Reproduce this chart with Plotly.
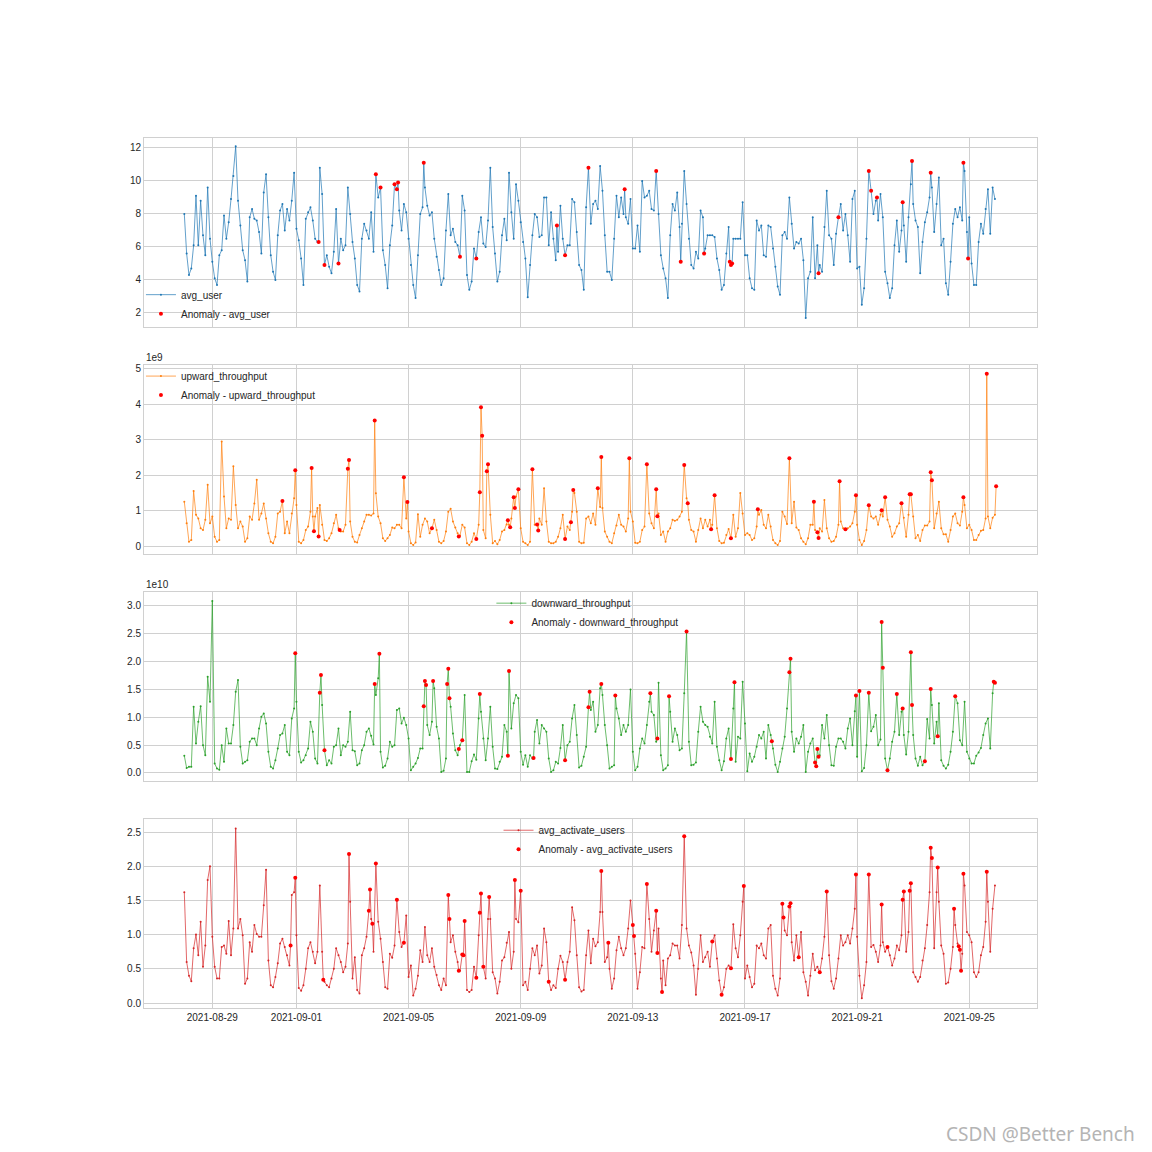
import pandas as pd
import plotly.graph_objects as go
from plotly.subplots import make_subplots

# ---------------- data ----------------
start_time = "2021-08-28 00:00"
step_hours = 2  # one sample every 2 hours

avg_user = [
    8.0, 5.6, 4.3, 4.7, 6.1, 9.1, 6.1, 8.8, 6.7, 5.5, 9.6, 6.5,
    5.1, 4.1, 3.7, 5.5, 5.8, 7.9, 6.5, 7.5, 8.9, 10.3, 12.1, 8.8,
    7.3, 5.8, 5.2, 3.9, 7.8, 8.3, 7.7, 7.6, 6.9, 5.6, 9.3, 10.4,
    7.8, 5.5, 4.5, 4.0, 6.7, 8.2, 8.6, 7.0, 8.3, 7.6, 8.8, 10.5,
    7.1, 6.4, 5.3, 3.7, 7.7, 8.1, 8.4, 7.6, 6.5, 6.3, 10.8, 9.2,
    4.9, 5.5, 4.8, 4.4, 5.7, 8.3, 5.0, 6.5, 5.8, 6.1, 9.6, 8.0,
    6.3, 5.3, 3.7, 3.3, 6.5, 7.4, 7.0, 6.5, 8.1, 5.7, 10.4, 9.0,
    9.6, 5.8, 4.9, 3.5, 6.1, 7.3, 9.8, 9.5, 8.2, 7.0, 8.6, 8.1,
    6.5, 4.9, 3.7, 2.9, 5.5, 8.0, 8.4, 9.6, 8.5, 7.9, 8.1, 6.5,
    5.4, 4.6, 3.7, 4.1, 7.0, 9.2, 6.7, 7.1, 6.3, 6.1, 5.4, 9.1,
    8.2, 4.3, 3.4, 3.9, 5.9, 5.3, 6.9, 7.8, 6.2, 6.0, 7.6, 10.8,
    7.2, 5.6, 3.9, 4.5, 6.7, 7.7, 6.4, 10.5, 8.1, 6.5, 9.8, 8.8,
    7.5, 6.3, 5.3, 2.95, 4.9, 6.7, 8.0, 7.8, 6.6, 6.7, 9.0, 9.0,
    6.1, 8.1, 6.5, 5.2, 5.7, 8.5, 6.5, 5.5, 6.1, 6.1, 8.9, 8.7,
    6.9, 4.9, 4.6, 3.4, 8.4, 10.8, 7.4, 8.6, 8.8, 8.3, 10.9, 9.4,
    6.7, 4.5, 4.5, 4.0, 6.5, 9.1, 7.8, 9.0, 8.0, 7.8, 7.4, 8.9,
    5.9, 5.9, 7.3, 5.7, 10.0, 9.0, 9.1, 9.4, 8.3, 8.2, 10.6, 8.0,
    5.5, 4.7, 4.1, 2.9, 6.7, 8.6, 8.2, 9.3, 7.2, 7.4, 10.6, 8.6,
    6.5, 4.9, 4.7, 5.7, 5.3, 8.2, 7.8, 5.9, 6.7, 6.7, 6.7, 6.6,
    5.3, 4.6, 3.4, 3.7, 5.6, 7.2, 4.9, 6.5, 6.5, 6.5, 6.5, 8.7,
    5.5, 5.5, 4.1, 3.5, 3.4, 7.6, 7.0, 7.3, 5.5, 5.4, 7.3, 7.2,
    5.9, 4.8, 3.6, 3.1, 6.7, 6.9, 6.5, 9.0, 7.4, 5.9, 6.3, 6.2,
    6.5, 5.2, 1.7, 4.1, 4.5, 7.8, 4.1, 6.1, 4.9, 4.5, 7.2, 9.4,
    6.7, 6.5, 4.9, 6.8, 7.8, 8.6, 7.0, 8.0, 6.7, 5.1, 8.9, 9.4,
    4.7, 4.8, 2.5, 3.5, 6.5, 10.6, 9.4, 8.0, 8.8, 7.6, 9.2, 7.8,
    4.5, 3.8, 2.9, 3.5, 6.1, 7.6, 5.7, 7.0, 7.3, 5.1, 7.8, 9.8,
    8.6, 7.6, 7.2, 4.4, 6.3, 7.5, 8.1, 9.0, 9.6, 6.9, 8.6, 10.2,
    6.1, 6.5, 3.8, 3.1, 5.1, 7.4, 8.3, 7.8, 8.4, 7.6, 10.6, 6.9,
    7.8, 5.0, 3.7, 3.7, 6.3, 7.4, 6.8, 8.3, 9.5, 6.8, 9.6, 8.9,
]

upward_throughput_e9 = [
    1.25, 0.64, 0.12, 0.17, 1.55, 0.88, 0.78, 0.5, 0.45, 0.74, 1.73, 0.64,
    0.83, 0.26, 0.12, 0.17, 2.95, 1.4, 0.5, 0.78, 0.74, 2.25, 1.16, 0.5,
    0.69, 0.55, 0.12, 0.22, 0.83, 0.74, 1.2, 1.87, 0.74, 0.92, 1.2, 0.78,
    0.36, 0.12, 0.08, 0.26, 0.92, 0.97, 1.27, 0.36, 0.69, 0.36, 0.92, 1.35,
    1.16, 0.12, 0.08, 0.17, 0.45, 0.55, 0.97, 0.83, 0.83, 1.07, 1.16, 0.6,
    0.17, 0.14, 0.22, 0.36, 0.64, 0.88, 0.5, 0.41, 0.41, 0.6, 2.18, 0.69,
    0.26, 0.12, 0.1, 0.31, 0.5, 0.69, 0.88, 0.88, 0.86, 0.92, 1.49, 0.83,
    0.64, 0.22, 0.14, 0.22, 0.31, 0.52, 0.5, 0.6, 0.6, 0.5, 1.94, 0.78,
    0.41, 0.08, 0.03, 0.1, 0.9, 0.26, 0.6, 0.78, 0.69, 0.36, 0.5, 0.74,
    0.45, 0.12, 0.08, 0.14, 0.41, 0.97, 1.05, 0.69, 0.52, 0.36, 0.3, 0.6,
    0.52, 0.08, 0.03, 0.12, 0.36, 0.2, 0.6, 3.92, 0.45, 0.22, 2.31, 0.88,
    0.08, 0.14, 0.05, 0.17, 0.41, 0.45, 0.61, 0.6, 0.78, 1.25, 1.4, 1.6,
    0.5, 0.12, 0.08, 0.03, 0.12, 2.17, 0.6, 0.55, 0.78, 0.6, 1.63, 0.69,
    0.12, 0.08, 0.08, 0.12, 0.26, 0.5, 0.88, 0.2, 0.55, 0.45, 0.97, 1.5,
    0.97, 0.12, 0.08, 0.09, 0.78, 0.83, 0.64, 0.92, 0.6, 1.63, 1.1, 1.07,
    0.41, 0.26, 0.12, 0.08, 0.36, 0.58, 0.88, 0.6, 0.55, 0.41, 0.78, 0.97,
    0.69, 0.09, 0.08, 0.12, 0.45, 0.55, 2.31, 0.92, 0.64, 0.5, 1.6, 0.92,
    0.31, 0.41, 0.12, 0.41, 0.5, 0.74, 0.71, 0.74, 0.83, 0.97, 2.29, 1.35,
    0.74, 0.45, 0.41, 0.12, 0.45, 0.78, 0.5, 0.74, 0.55, 0.74, 0.6, 1.43,
    0.5, 0.14, 0.08, 0.09, 0.31, 0.48, 0.22, 0.88, 0.26, 0.5, 1.5, 0.92,
    0.31, 0.36, 0.31, 0.17, 0.22, 0.55, 0.88, 1.02, 0.6, 0.5, 0.88, 0.55,
    0.17, 0.08, 0.03, 0.14, 0.97, 0.83, 0.62, 2.48, 0.64, 1.25, 0.52, 0.45,
    0.22, 0.12, 0.05, 0.22, 0.6, 0.6, 0.45, 0.39, 0.5, 0.41, 1.3, 0.5,
    0.22, 0.12, 0.14, 0.26, 0.6, 0.69, 0.5, 0.47, 0.5, 0.55, 0.64, 0.97,
    0.6, 0.17, 0.03, 0.14, 0.45, 1.15, 0.83, 0.78, 0.83, 0.6, 0.88, 0.83,
    1.38, 0.74, 0.55, 0.26, 0.36, 0.55, 0.64, 1.21, 0.8, 0.26, 0.88, 1.46,
    0.83, 0.22, 0.31, 0.14, 0.45, 0.58, 0.58, 0.69, 1.86, 0.5, 0.92, 1.25,
    0.5, 0.33, 0.33, 0.12, 0.45, 0.83, 0.92, 0.64, 0.58, 0.97, 1.16, 0.5,
    0.6, 0.45, 0.17, 0.17, 0.31, 0.43, 0.45, 0.78, 0.83, 0.5, 0.8, 0.88,
]

downward_throughput_e10 = [
    0.31, 0.09, 0.11, 0.11, 1.19, 0.53, 0.92, 1.2, 0.5, 0.32, 1.73, 1.28,
    3.09, 0.17, 0.08, 0.06, 0.5, 0.2, 0.8, 0.53, 0.53, 0.86, 1.46, 1.67,
    0.47, 0.17, 0.2, 0.23, 0.56, 0.62, 0.62, 0.5, 0.8, 1.01, 1.07, 0.89,
    0.38, 0.11, 0.08, 0.23, 0.44, 0.68, 0.71, 0.86, 0.38, 0.32, 0.98, 1.16,
    1.28, 0.38, 0.19, 0.23, 0.32, 0.44, 0.92, 0.74, 0.26, 0.17, 1.44, 1.22,
    0.41, 0.14, 0.23, 0.17, 0.47, 0.5, 0.8, 0.32, 0.5, 0.47, 0.56, 1.1,
    0.41, 0.39, 0.14, 0.17, 0.41, 0.5, 0.74, 0.8, 0.67, 0.51, 1.4, 1.7,
    0.38, 0.1, 0.13, 0.26, 0.56, 0.47, 0.5, 1.13, 1.16, 0.89, 0.99, 0.86,
    0.62, 0.05, 0.11, 0.17, 0.27, 0.44, 0.44, 1.65, 0.86, 0.68, 0.92, 1.52,
    0.83, 0.62, 0.02, 0.04, 0.26, 1.87, 1.19, 0.71, 0.41, 0.32, 0.5, 0.59,
    1.4, 0.02, 0.02, 0.21, 0.33, 0.24, 0.98, 1.1, 0.62, 0.23, 0.62, 1.19,
    0.47, 0.08, 0.07, 0.2, 0.29, 0.86, 0.74, 1.83, 0.8, 1.25, 1.4, 1.34,
    0.38, 0.15, 0.32, 0.11, 0.32, 0.26, 0.74, 0.95, 0.53, 0.86, 0.8, 0.74,
    0.26, 0.02, 0.05, 0.2, 0.17, 0.45, 0.86, 0.23, 0.5, 0.56, 0.98, 1.22,
    0.68, 0.1, 0.13, 0.29, 0.47, 1.18, 1.13, 1.28, 0.74, 0.86, 1.52, 1.4,
    0.86, 0.5, 0.08, 0.11, 0.14, 1.16, 0.98, 0.68, 0.86, 0.74, 0.86, 1.5,
    0.38, 0.05, 0.11, 0.44, 0.62, 0.53, 0.86, 1.28, 1.1, 1.04, 0.56, 1.62,
    0.32, 0.05, 0.08, 0.14, 1.1, 0.56, 0.8, 0.68, 0.41, 0.44, 1.43, 2.54,
    0.56, 0.14, 0.15, 0.19, 0.74, 1.19, 0.92, 0.86, 0.83, 0.65, 0.53, 1.28,
    0.47, 0.23, 0.05, 0.21, 0.62, 0.8, 0.25, 1.16, 0.2, 0.65, 0.62, 1.64,
    0.89, 0.03, 0.35, 0.2, 0.29, 0.47, 0.68, 0.62, 0.74, 0.26, 0.86, 0.68,
    0.44, 0.15, 0.02, 0.2, 0.44, 0.65, 1.16, 1.81, 0.74, 0.38, 0.62, 0.53,
    0.65, 0.86, 0.02, 0.38, 0.53, 0.62, 0.19, 0.43, 0.32, 0.86, 0.62, 1.04,
    0.5, 0.14, 0.13, 0.47, 0.62, 0.62, 0.56, 0.44, 0.8, 0.98, 0.5, 1.11,
    0.29, 1.47, 0.03, 0.09, 0.5, 1.44, 0.75, 0.83, 1.04, 0.5, 0.6, 1.89,
    0.26, 0.05, 0.26, 0.56, 0.74, 1.42, 0.68, 1.1, 0.68, 0.33, 0.74, 2.17,
    0.68, 0.26, 0.13, 0.29, 0.14, 0.26, 0.97, 0.62, 1.22, 0.53, 0.92, 1.25,
    0.23, 0.13, 0.08, 0.15, 0.38, 0.74, 1.38, 1.25, 0.59, 0.5, 1.28, 0.38,
    0.26, 0.17, 0.17, 0.31, 0.37, 0.45, 0.68, 0.89, 0.98, 0.44, 1.43, 1.62,
]

avg_activate_users = [
    1.62, 0.6, 0.4, 0.32, 0.8, 1.0, 0.7, 1.19, 0.53, 0.84, 1.8, 2.0,
    0.97, 0.53, 0.36, 0.36, 0.82, 0.84, 0.72, 1.2, 0.7, 1.09, 2.55, 1.09,
    1.23, 0.99, 0.28, 0.36, 0.89, 0.75, 1.14, 1.01, 0.97, 0.97, 1.43, 1.95,
    0.62, 0.26, 0.23, 0.38, 0.58, 0.87, 0.94, 0.82, 0.7, 0.55, 1.58, 1.62,
    0.99, 0.22, 0.18, 0.26, 0.5, 0.8, 0.89, 0.75, 0.58, 0.75, 1.72, 0.75,
    0.31, 0.26, 0.23, 0.36, 0.5, 0.8, 0.7, 0.6, 0.45, 0.53, 0.87, 1.48,
    0.36, 0.67, 0.19, 0.14, 0.7, 0.8, 0.97, 1.09, 1.23, 0.75, 2.04, 1.19,
    0.94, 0.6, 0.23, 0.21, 0.72, 0.66, 0.84, 1.51, 1.04, 0.82, 0.88, 1.28,
    0.38, 0.55, 0.11, 0.21, 0.4, 0.77, 0.6, 1.11, 0.7, 0.6, 0.8, 0.53,
    0.41, 0.26, 0.19, 0.36, 0.26, 1.58, 0.89, 0.99, 0.75, 0.6, 0.47, 0.71,
    1.2, 0.19, 0.16, 0.19, 0.53, 0.37, 0.99, 1.6, 0.75, 0.36, 1.23, 1.23,
    0.45, 0.36, 0.14, 0.31, 0.62, 0.67, 0.88, 1.04, 0.5, 0.75, 1.23, 1.18,
    1.64, 0.26, 0.31, 0.19, 0.5, 0.8, 0.7, 0.84, 0.43, 0.55, 1.09, 0.89,
    0.23, 0.19, 0.26, 0.22, 0.5, 0.69, 0.6, 0.34, 0.6, 0.75, 1.4, 1.21,
    0.7, 0.23, 0.17, 0.19, 0.7, 1.06, 0.58, 0.94, 0.83, 0.89, 1.33, 1.33,
    0.6, 0.67, 0.5, 0.21, 0.36, 0.77, 0.97, 0.8, 0.7, 0.8, 1.09, 1.5,
    1.14, 0.72, 0.21, 0.45, 0.82, 0.8, 1.74, 1.23, 0.75, 1.06, 1.35, 1.09,
    0.36, 0.62, 0.26, 0.65, 0.7, 0.87, 0.84, 0.84, 0.65, 1.14, 2.44, 1.09,
    0.84, 0.74, 0.55, 0.12, 0.5, 0.99, 0.6, 0.67, 0.75, 0.53, 0.9, 0.99,
    0.65, 0.33, 0.12, 0.23, 0.5, 0.55, 0.51, 1.15, 0.8, 0.67, 0.99, 1.48,
    0.36, 0.55, 0.38, 0.23, 0.28, 0.84, 0.8, 0.87, 0.7, 0.65, 1.09, 1.14,
    0.4, 0.21, 0.11, 0.36, 1.45, 1.06, 0.99, 1.41, 0.89, 0.62, 0.99, 0.67,
    1.04, 0.45, 0.31, 0.11, 0.4, 0.72, 0.48, 0.53, 0.45, 0.65, 0.97, 1.63,
    0.7, 0.32, 0.21, 0.36, 0.65, 0.99, 0.84, 0.89, 0.99, 0.87, 1.09, 1.38,
    0.97, 0.4, 0.07, 0.26, 0.6, 1.88, 0.82, 0.85, 0.75, 0.6, 0.84, 0.89,
    0.75, 0.82, 0.7, 0.55, 0.65, 0.84, 0.77, 0.99, 1.63, 0.75, 1.04, 1.75,
    0.45, 0.38, 0.31, 0.38, 0.62, 0.8, 1.14, 1.62, 2.12, 0.8, 1.62, 1.48,
    0.84, 0.72, 0.28, 0.3, 0.5, 0.82, 1.14, 0.87, 0.78, 0.72, 1.72, 1.04,
    0.99, 0.89, 0.45, 0.38, 0.45, 0.7, 0.82, 1.19, 1.48, 0.75, 1.38, 1.72,
]

# anomalies: hour offset from start_time, value
anomaly_avg_user_hours = [115, 120, 132, 164, 168, 180, 182, 183, 205, 236, 250, 319, 326, 346, 377, 404,
                          425, 445, 467, 468, 469, 543, 560, 586, 588, 593, 615, 623, 639, 667, 671]
anomaly_avg_user_values = [6.3, 4.9, 5.0, 10.4, 9.6, 9.8, 9.5, 9.9, 11.1, 5.4, 5.3, 7.3, 5.5, 10.8, 9.5, 10.6,
                           5.1, 5.6, 5.1, 4.9, 5.0, 4.4, 7.8, 10.6, 9.4, 9.0, 8.7, 11.2, 10.5, 11.1, 5.3]

anomaly_upward_hours = [84, 95, 109, 111, 115, 133, 140, 141, 163, 188, 191, 212, 235, 250, 253, 254, 255, 259,
                        260, 277, 279, 282, 283, 286, 298, 302, 303, 326, 331, 333, 354, 357, 381, 396, 404,
                        405, 428, 431, 451, 454, 468, 491, 518, 539, 542, 543, 561, 566, 575, 586, 597, 600,
                        614, 621, 622, 639, 640, 667, 687, 695]
anomaly_upward_values_e9 = [1.27, 2.14, 2.2, 0.42, 0.27, 0.45, 2.18, 2.43, 3.54, 1.94, 1.24, 0.5, 0.27, 0.2,
                            1.52, 3.92, 3.11, 2.11, 2.31, 0.73, 0.53, 1.38, 1.07, 1.6, 2.17, 0.61, 0.44, 0.2,
                            0.67, 1.58, 1.63, 2.51, 2.48, 2.31, 1.6, 0.84, 2.29, 1.21, 0.47, 1.43, 0.22, 1.04,
                            2.48, 1.25, 0.39, 0.23, 1.83, 0.47, 1.43, 1.15, 1.01, 1.38, 1.21, 1.46, 1.46, 2.08,
                            1.86, 1.38, 4.86, 1.69]

anomaly_downward_hours = [95, 116, 117, 120, 163, 167, 205, 206, 207, 213, 225, 226, 227, 235, 238, 253, 277,
                          278, 299, 326, 346, 347, 357, 369, 399, 405, 415, 430, 468, 471, 503, 518, 519, 540,
                          541, 542, 543, 575, 578, 586, 597, 598, 602, 610, 615, 622, 623, 634, 639, 645, 660,
                          693, 694]
anomaly_downward_values_e10 = [2.15, 1.44, 1.76, 0.41, 1.6, 2.14, 1.2, 1.65, 1.58, 1.65, 1.6, 1.87, 1.34, 0.43,
                               0.59, 1.42, 0.31, 1.83, 0.27, 0.23, 1.18, 1.46, 1.6, 1.39, 1.43, 0.62, 1.38, 2.54,
                               0.25, 1.63, 0.57, 1.81, 2.05, 0.19, 0.12, 0.43, 0.29, 1.39, 1.47, 1.44, 2.71, 1.89,
                               0.05, 1.42, 1.16, 2.17, 1.22, 0.21, 1.51, 0.66, 1.38, 1.64, 1.62]

anomaly_activate_hours = [91, 95, 119, 141, 158, 159, 161, 164, 182, 188, 226, 227, 235, 238, 239, 240, 250,
                          253, 254, 256, 261, 283, 288, 312, 326, 357, 363, 384, 385, 396, 404, 405, 409, 428,
                          452, 460, 468, 479, 512, 513, 518, 519, 526, 544, 550, 575, 586, 597, 602, 615, 616,
                          621, 622, 639, 640, 645, 659, 663, 664, 665, 667, 687]
anomaly_activate_values = [0.84, 1.83, 0.34, 2.18, 1.35, 1.66, 1.16, 2.04, 1.51, 0.88, 1.58, 1.23, 0.47, 0.71,
                           0.7, 1.2, 0.37, 1.32, 1.6, 0.53, 1.55, 1.8, 1.64, 0.31, 0.34, 1.93, 0.88, 1.14, 0.98,
                           1.74, 1.35, 0.73, 0.16, 2.44, 0.9, 0.12, 0.51, 1.71, 1.45, 1.25, 1.41, 1.46, 0.67,
                           0.45, 1.63, 1.88, 1.88, 1.44, 0.82, 1.51, 1.63, 1.64, 1.75, 2.27, 2.12, 1.98, 1.38,
                           0.83, 0.78, 0.47, 1.89, 1.92]

series_names = ["avg_user", "upward_throughput", "downward_throughput", "avg_activate_users"]
x_tick_labels = ["2021-08-29", "2021-09-01", "2021-09-05", "2021-09-09",
                 "2021-09-13", "2021-09-17", "2021-09-21", "2021-09-25"]
y_tick_values = [
    [2, 4, 6, 8, 10, 12],
    [0, 1, 2, 3, 4, 5],
    [0.0, 0.5, 1.0, 1.5, 2.0, 2.5, 3.0],
    [0.0, 0.5, 1.0, 1.5, 2.0, 2.5],
]
y_tick_labels = [
    ["2", "4", "6", "8", "10", "12"],
    ["0", "1", "2", "3", "4", "5"],
    ["0.0", "0.5", "1.0", "1.5", "2.0", "2.5", "3.0"],
    ["0.0", "0.5", "1.0", "1.5", "2.0", "2.5"],
]
offset_texts = ["", "1e9", "1e10", ""]

# ---------------- styling ----------------
colors = ["#1f77b4", "#ff7f0e", "#2ca02c", "#d62728"]
FONT = "Liberation Sans, Arial, sans-serif"
TEXT_COLOR = "#262626"
GRID = "#d0d0d0"

t0 = pd.Timestamp(start_time)


def to_time(h):
    return t0 + pd.Timedelta(hours=h)


grids = [avg_user, upward_throughput_e9, downward_throughput_e10, avg_activate_users]
anom_h = [anomaly_avg_user_hours, anomaly_upward_hours, anomaly_downward_hours, anomaly_activate_hours]
anom_v = [anomaly_avg_user_values, anomaly_upward_values_e9, anomaly_downward_values_e10, anomaly_activate_values]

fig = make_subplots(rows=4, cols=1, shared_xaxes=True)
legend_ids = ["legend", "legend2", "legend3", "legend4"]

for k in range(4):
    pts = {i * step_hours: v for i, v in enumerate(grids[k])}
    pts.update(dict(zip(anom_h[k], anom_v[k])))
    hrs = sorted(pts)
    fig.add_trace(go.Scatter(
        x=[to_time(h) for h in hrs], y=[pts[h] for h in hrs],
        mode="lines+markers", name=series_names[k],
        line=dict(color=colors[k], width=0.7),
        marker=dict(color=colors[k], size=2),
        legend=legend_ids[k],
    ), row=k + 1, col=1)
    fig.add_trace(go.Scatter(
        x=[to_time(h) for h in anom_h[k]], y=anom_v[k],
        mode="markers", name="Anomaly - " + series_names[k],
        marker=dict(color="red", size=4),
        legend=legend_ids[k],
    ), row=k + 1, col=1)

y_ranges = [[1.15, 12.6], [-0.226, 5.11], [-0.144, 3.25], [-0.073, 2.69]]
domains = [[0.7828, 1.0], [0.5218, 0.7391], [0.2609, 0.4782], [0.0, 0.2172]]
x_range = [to_time(-34.5), to_time(730)]
tick_times = [pd.Timestamp(s) for s in x_tick_labels]

for k in range(4):
    xa = "xaxis" if k == 0 else f"xaxis{k + 1}"
    ya = "yaxis" if k == 0 else f"yaxis{k + 1}"
    fig.layout[xa].update(
        range=x_range, tickvals=tick_times, ticktext=x_tick_labels,
        showticklabels=(k == 3), showgrid=True, gridcolor=GRID, gridwidth=1,
        showline=True, linecolor=GRID, linewidth=1, mirror=True, zeroline=False,
        ticks="", tickfont=dict(family=FONT, size=10, color=TEXT_COLOR),
    )
    fig.layout[ya].update(
        range=y_ranges[k], domain=domains[k],
        tickvals=y_tick_values[k], ticktext=y_tick_labels[k],
        showgrid=True, gridcolor=GRID, gridwidth=1,
        showline=True, linecolor=GRID, linewidth=1, mirror=True, zeroline=False,
        ticks="", tickfont=dict(family=FONT, size=10, color=TEXT_COLOR),
    )
    if offset_texts[k]:
        fig.add_annotation(
            text=offset_texts[k], xref=f"x{k + 1} domain", yref=f"y{k + 1} domain",
            x=0.0, y=1.0, xanchor="left", yanchor="bottom", showarrow=False,
            font=dict(family=FONT, size=10, color=TEXT_COLOR),
        )

legend_style = dict(font=dict(family=FONT, size=10, color=TEXT_COLOR),
                    bgcolor="rgba(0,0,0,0)", borderwidth=0, itemwidth=30,
                    xanchor="left", yanchor="top")
# page body has an 8px margin, so the figure is 1144 px and margins are shifted by 8 px
fig.update_layout(
    width=1144, height=1144,
    margin=dict(l=136, r=115, t=130, b=144),
    paper_bgcolor="white", plot_bgcolor="white",
    font=dict(family=FONT, size=10, color=TEXT_COLOR),
    showlegend=True,
    legend=dict(x=-0.0034, y=0.8366, **legend_style),
    legend2=dict(x=-0.0034, y=0.743, **legend_style),
    legend3=dict(x=0.389, y=0.482, **legend_style),
    legend4=dict(x=0.397, y=0.221, **legend_style),
)

fig.add_annotation(
    text="CSDN @Better Bench", xref="paper", yref="paper",
    x=1.112, y=-0.145, xanchor="right", yanchor="middle", showarrow=False,
    font=dict(family="Noto Sans, DejaVu Sans, sans-serif", size=19, color="#b4b4b4"),
)

fig.write_html("out.html")
